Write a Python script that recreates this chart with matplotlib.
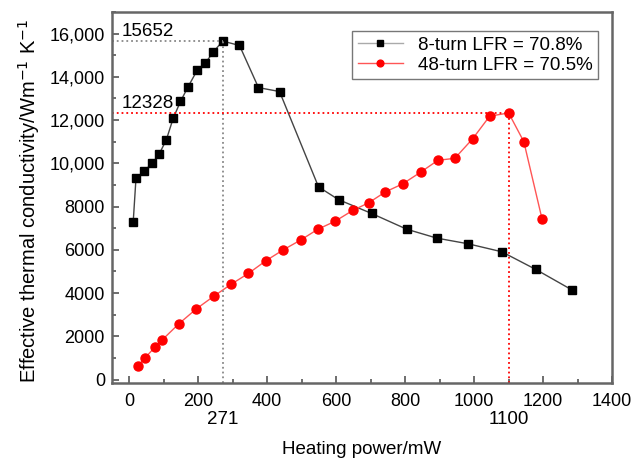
import matplotlib
matplotlib.use("Agg")
import matplotlib.pyplot as plt
from matplotlib.ticker import FuncFormatter, MultipleLocator

plt.rcParams["font.family"] = ["Liberation Sans", "DejaVu Sans"]

# 8-turn LFR = 70.8%
power_8 = [12, 20, 44, 67, 88, 108, 128, 149, 171, 198, 221, 244, 271, 320, 375,
           436, 549, 607, 703, 805, 892, 982, 1080, 1179, 1284]
k_8 = [7300, 9300, 9640, 10000, 10450, 11090, 12090, 12860, 13540, 14320, 14640,
       15140, 15652, 15450, 13500, 13320, 8910, 8320, 7680, 6950, 6540, 6280, 5910,
       5090, 4140]

# 48-turn LFR = 70.5%
power_48 = [26, 46, 75, 95, 145, 195, 246, 296, 346, 397, 447, 497, 547, 597, 648,
            695, 743, 793, 845, 895, 944, 996, 1045, 1100, 1144, 1197]
k_48 = [640, 1000, 1500, 1820, 2590, 3270, 3860, 4410, 4910, 5500, 6000, 6450, 6950,
        7320, 7820, 8180, 8680, 9050, 9590, 10140, 10230, 11140, 12180, 12328, 11000,
        7410]

peak_8 = (271, 15652)
peak_48 = (1100, 12328)

fig = plt.figure(figsize=(6.39, 4.59), dpi=100)
ax = fig.add_axes([0.175, 0.166, 0.783, 0.808])

ax.plot(power_8, k_8, color="#444444", lw=1.0, marker="s", ms=6,
        mfc="black", mec="black", label="8-turn LFR = 70.8%")
ax.plot(power_48, k_48, color="#ff5555", lw=1.0, marker="o", ms=6.5,
        mfc="red", mec="red", label="48-turn LFR = 70.5%")

# guide lines to the peaks
ax.plot([-50, peak_8[0]], [peak_8[1], peak_8[1]], ls=":", color="#888888", lw=1.3)
ax.plot([peak_8[0], peak_8[0]], [-150, peak_8[1]], ls=":", color="#888888", lw=1.3)
ax.plot([-50, peak_48[0]], [peak_48[1], peak_48[1]], ls=":", color="red", lw=1.3)
ax.plot([peak_48[0], peak_48[0]], [-150, peak_48[1]], ls=":", color="red", lw=1.3)

ax.text(-22, peak_8[1] + 60, str(peak_8[1]), fontsize=13.5, va="bottom", ha="left")
ax.text(-22, peak_48[1] + 60, str(peak_48[1]), fontsize=13.5, va="bottom", ha="left")

ax.set_xlim(-50, 1400)
ax.set_ylim(-150, 17000)
ax.xaxis.set_major_locator(MultipleLocator(200))
ax.xaxis.set_minor_locator(MultipleLocator(100))
ax.yaxis.set_major_locator(MultipleLocator(2000))
ax.yaxis.set_minor_locator(MultipleLocator(1000))
ax.yaxis.set_major_formatter(FuncFormatter(
    lambda v, p: f"{int(v):,}" if v >= 10000 else f"{int(v)}"))
ax.tick_params(which="both", direction="in", labelsize=13, width=1.2, color="#555555")
ax.tick_params(which="major", length=5)
ax.tick_params(which="minor", length=3)
ax.tick_params(axis="x", pad=7)
ax.tick_params(axis="y", pad=5)
for s in ax.spines.values():
    s.set_color("#666666")
    s.set_linewidth(1.8)

# second row of x labels at the peak positions
for xv in (peak_8[0], peak_48[0]):
    ax.text(xv, -0.098, str(xv), transform=ax.get_xaxis_transform(),
            ha="center", va="center", fontsize=13.5)

ax.set_xlabel("Heating power/mW", fontsize=13.5)
ax.xaxis.set_label_coords(0.5, -0.158)
ax.set_ylabel("Effective thermal conductivity/Wm$^{-1}$ K$^{-1}$", fontsize=14.5)
ax.yaxis.set_label_coords(-0.14, 0.49)

leg = ax.legend(loc="upper right", bbox_to_anchor=(0.972, 0.949), borderaxespad=0,
                fontsize=13.5, frameon=True, fancybox=False, edgecolor="#555555",
                handlelength=2.4, borderpad=0.3, labelspacing=0.15, markerscale=0.75)
leg.get_frame().set_linewidth(1.0)
leg.get_lines()[0].set_color("#aaaaaa")
leg.get_lines()[0].set_markerfacecolor("black")

fig.savefig("out.png", dpi=100)
